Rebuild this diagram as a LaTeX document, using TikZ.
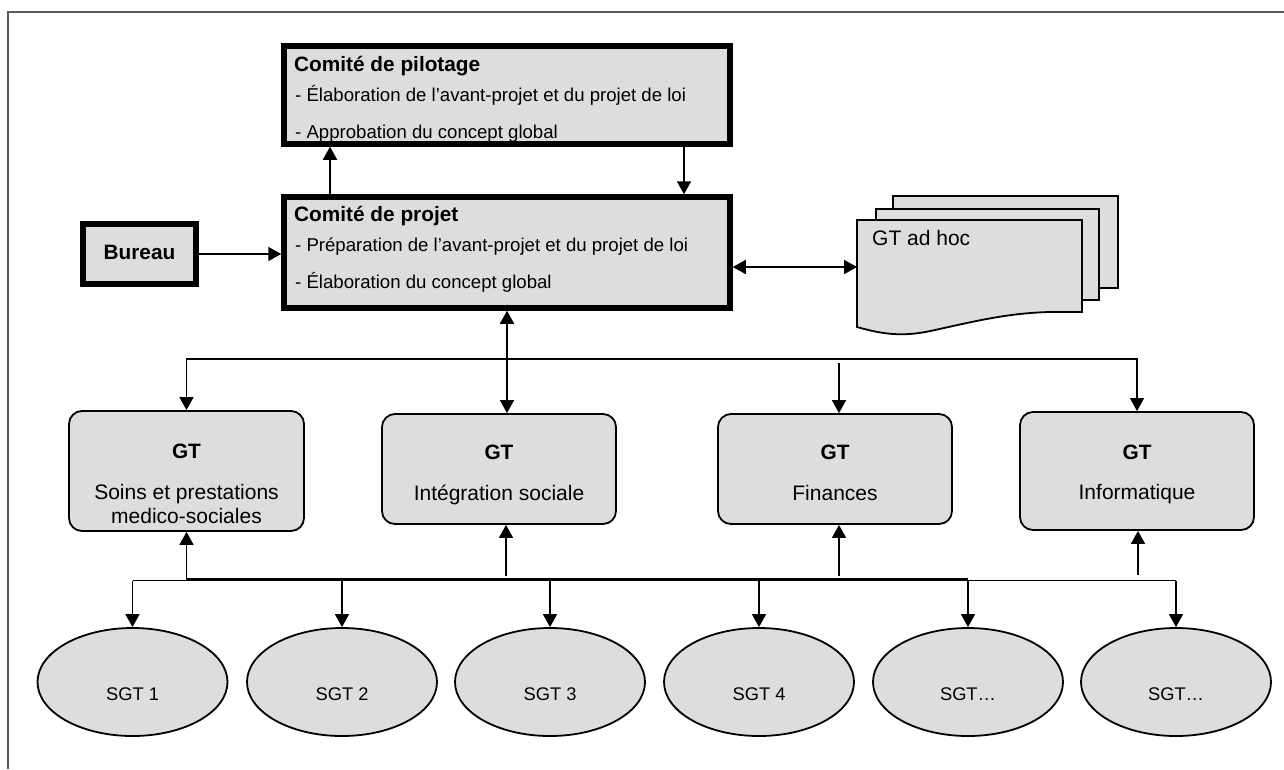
\documentclass[tikz,border=0pt]{standalone}
\usepackage{fontspec}
\setmainfont{Liberation Sans}
\usetikzlibrary{arrows.meta,shapes.geometric}
\definecolor{boxfill}{RGB}{221,221,221}
\definecolor{framegray}{RGB}{90,90,90}
\begin{document}
\begin{tikzpicture}[x=1pt,y=-1pt,
  thickbox/.style={draw=black,line width=5.5pt,fill=boxfill,inner sep=0pt},
  gtbox/.style={draw=black,line width=1.8pt,fill=boxfill,rounded corners=13pt,inner sep=0pt,minimum width=234pt},
  sgt/.style={ellipse,draw=black,line width=1.8pt,fill=boxfill,inner sep=0pt,minimum width=190pt,minimum height=108pt},
  docst/.style={draw=black,line width=1.8pt,fill=boxfill,line join=miter},
  arr/.style={line width=1.6pt,-{Triangle[width=14pt,length=13pt]}},
  darr/.style={line width=1.6pt,{Triangle[width=14pt,length=13pt]}-{Triangle[width=14pt,length=13pt]}},
  busline/.style={line width=1.3pt},
  ttl/.style={font=\fontsize{20.8}{24}\selectfont\bfseries,inner sep=0pt,anchor=base west},
  txt/.style={font=\fontsize{18.6}{22}\selectfont,inner sep=0pt,anchor=base west},
  gtb/.style={font=\fontsize{20.8}{24}\selectfont\bfseries,inner sep=0pt,anchor=base},
  gtt/.style={font=\fontsize{21}{24}\selectfont,inner sep=0pt,anchor=base},
  sgtt/.style={font=\fontsize{18.3}{22}\selectfont,inner sep=0pt,anchor=base}
]
\useasboundingbox (0,0) rectangle (1284,769);
% frame
\draw[framegray,line width=1.5pt] (8,769) -- (8,12) -- (1284,12);

% committees
\node[thickbox,minimum width=446pt,minimum height=98pt] (pil) at (507,95) {};
\node[ttl] (pilT) at (294,71) {Comité de pilotage};
\node[txt] (pil1) at (295,101) {- Élaboration de l’avant-projet et du projet de loi};
\node[txt] (pil2) at (295,138) {- Approbation du concept global};

\node[thickbox,minimum width=446pt,minimum height=111pt] (proj) at (507,252.5) {};
\node[ttl] (projT) at (294,221) {Comité de projet};
\node[txt] (proj1) at (295,251) {- Préparation de l’avant-projet et du projet de loi};
\node[txt] (proj2) at (295,288) {- Élaboration du concept global};

\node[thickbox,minimum width=113pt,minimum height=60pt] (bur) at (139.5,254) {};
\node[ttl,anchor=base] (burT) at (139.5,259) {Bureau};

% GT ad hoc stack
\draw[docst] (893,196) rectangle (1118,288);
\draw[docst] (876,209) rectangle (1099,300);
\draw[docst] (857,220) -- (1082,220) -- (1082,312) -- (1050,312)
  .. controls (1010,313) and (980,320) .. (935,330)
  .. controls (905,337) and (885,335) .. (857,327) -- cycle;
\node[inner sep=0pt,anchor=base west,font=\fontsize{21}{24}\selectfont] (adhocT) at (872,245.5) {GT ad hoc};
\coordinate (adhoc) at (857,267);

% GT boxes
\node[gtbox,minimum width=235pt,minimum height=120pt] (g1) at (186.5,471) {};
\node[gtbox,minimum height=110pt] (g2) at (499,469) {};
\node[gtbox,minimum height=110pt] (g3) at (835,469) {};
\node[gtbox,minimum height=118pt] (g4) at (1137,471) {};
\node[gtb] (g1a) at (186.5,458) {GT};
\node[gtt] (g1b) at (186.5,499) {Soins et prestations};
\node[gtt] (g1c) at (186.5,523) {medico-sociales};
\node[gtb] (g2a) at (499,459) {GT};
\node[gtt] (g2b) at (499,500) {Intégration sociale};
\node[gtb] (g3a) at (835,459) {GT};
\node[gtt] (g3b) at (835,500) {Finances};
\node[gtb] (g4a) at (1137,459) {GT};
\node[gtt] (g4b) at (1137,499) {Informatique};

% SGT ellipses
\foreach \i/\x/\t in {1/132.5/SGT 1,2/342/SGT 2,3/550/SGT 3,4/759/SGT 4,5/968/SGT…,6/1176/SGT…}{
  \node[sgt] (s\i) at (\x,682) {};
  \node[sgtt] (s\i t) at (\x,700) {\t};
}

% connectors top
\draw[arr] ([xshift=-177pt]proj.north) -- ([xshift=-177pt]pil.south);
\draw[arr] ([xshift=177pt]pil.south) -- ([xshift=177pt]proj.north);
\draw[arr] (bur.east) -- (bur.east -| proj.west);
\draw[darr] (proj.east |- adhoc) -- (adhoc);
\draw[darr] (proj.south) -- (proj.south |- g2.north);

\coordinate (tb) at (507,359);
\draw[busline,-{Triangle[width=14pt,length=13pt]}] (tb) -| (g1.north);
\draw[busline,-{Triangle[width=14pt,length=13pt]}] (tb) -| (g4.north);
\coordinate (t3) at (839,363);
\draw[arr] (t3) -- (t3 |- g3.north);

% connectors bottom
\coordinate (lb) at (0,580.5);
\draw[busline] (s1.north |- lb) -- (s6.north |- lb);
\draw[line width=2.6pt] (g1.south |- 0,579) -- (s5.north |- 0,579);
\foreach \i in {1,...,6}{
  \draw[arr] (s\i.north |- lb) -- (s\i.north);
}
\draw[arr] (g1.south |- lb) -- (g1.south);
\coordinate (u2) at (506,576);
\coordinate (u3) at (839,576);
\coordinate (u4) at (1138,575);
\draw[arr] (u2) -- (u2 |- g2.south);
\draw[arr] (u3) -- (u3 |- g3.south);
\draw[arr] (u4) -- (u4 |- g4.south);
\end{tikzpicture}
\end{document}
